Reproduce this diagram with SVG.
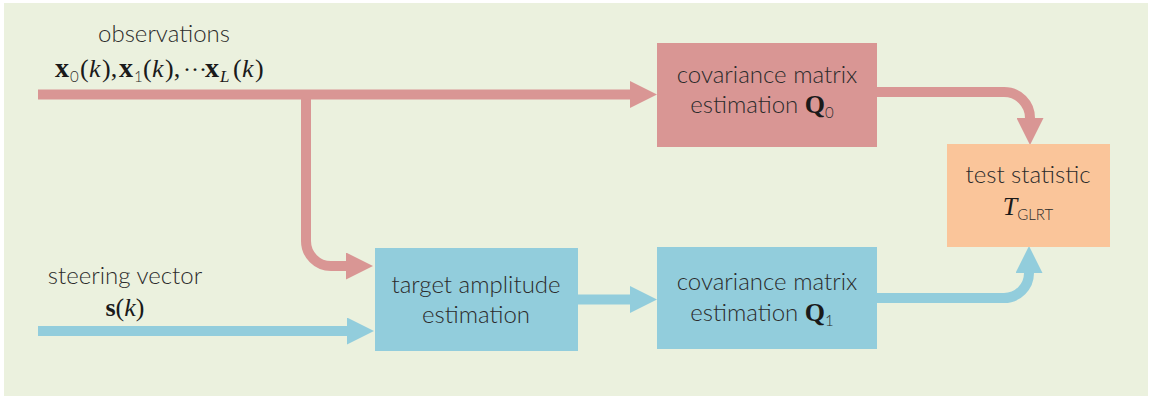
<svg xmlns="http://www.w3.org/2000/svg" width="1152" height="401" viewBox="0 0 1152 401">
<style>
.lbl{font-family:Lato,"Open Sans","Liberation Sans",sans-serif;font-weight:300;font-size:24px;fill:#2b2b2b;text-anchor:middle}
.m{font-family:"Liberation Serif","DejaVu Serif",serif;font-size:26px;fill:#1a1a1a}
.b{font-weight:bold}
.i{font-style:italic}
.sub{font-family:Lato,"Open Sans","Liberation Sans",sans-serif;font-weight:300;font-size:15px;fill:#2b2b2b}
.red{fill:none;stroke:#D99694;stroke-width:10}
.blue{fill:none;stroke:#92CDDC;stroke-width:10}
</style>
<defs>
<marker id="ar" viewBox="0 0 27 27" refX="0" refY="13.5" markerWidth="27" markerHeight="27" markerUnits="userSpaceOnUse" orient="auto"><path d="M0,0 L27,13.5 L0,27 z" fill="#D99694"/></marker>
<marker id="ab" viewBox="0 0 27 27" refX="0" refY="13.5" markerWidth="27" markerHeight="27" markerUnits="userSpaceOnUse" orient="auto"><path d="M0,0 L27,13.5 L0,27 z" fill="#92CDDC"/></marker>
</defs>
<rect x="4" y="3" width="1144" height="393" fill="#EBF1DE"/>
<g id="connectors">
<path class="red" d="M38,94.5 H630" marker-end="url(#ar)"/>
<path class="red" d="M306,94 V241 A25,25 0 0 0 331,266 H346" marker-end="url(#ar)"/>
<path class="red" d="M877,92 H1004 A26,26 0 0 1 1030,118" marker-end="url(#ar)"/>
<path class="blue" d="M38,331 H347" marker-end="url(#ab)"/>
<path class="blue" d="M578,299.5 H630" marker-end="url(#ab)"/>
<path class="blue" d="M877,298 H1004 A25,25 0 0 0 1029,273" marker-end="url(#ab)"/>
</g>
<g id="observations">
<text class="lbl" x="164" y="42">observations</text>
<text class="m" y="77"><tspan class="b" x="55" font-size="28">x</tspan><tspan class="sub" x="70" y="82">0</tspan><tspan x="80" y="77">(</tspan><tspan class="i" x="89">k</tspan><tspan x="102">),</tspan><tspan class="b" x="119" font-size="28">x</tspan><tspan class="sub" x="134" y="82">1</tspan><tspan x="143" y="77">(</tspan><tspan class="i" x="152">k</tspan><tspan x="165">),</tspan><tspan x="183" font-size="24">···</tspan><tspan class="b" x="205" font-size="28">x</tspan><tspan class="i" font-size="17" x="220" y="82">L</tspan><tspan x="233" y="77">(</tspan><tspan class="i" x="242">k</tspan><tspan x="255">)</tspan></text>
</g>
<g id="steering">
<text class="lbl" x="125" y="284">steering vector</text>
<text class="m" x="125" y="316" text-anchor="middle" font-size="27"><tspan class="b">s</tspan>(<tspan class="i">k</tspan>)</text>
</g>
<g id="cov0">
<rect x="657" y="43" width="220" height="104" fill="#D99694"/>
<text class="lbl" x="767" y="83">covariance matrix</text>
<text class="lbl" x="762" y="113">estimation <tspan class="m b">Q</tspan><tspan class="sub" dy="5">0</tspan></text>
</g>
<g id="target">
<rect x="375" y="248" width="203" height="103" fill="#92CDDC"/>
<text class="lbl" x="476" y="293">target amplitude</text>
<text class="lbl" x="476" y="323">estimation</text>
</g>
<g id="cov1">
<rect x="657" y="247" width="220" height="102" fill="#92CDDC"/>
<text class="lbl" x="767" y="290">covariance matrix</text>
<text class="lbl" x="762" y="321">estimation <tspan class="m b">Q</tspan><tspan class="sub" dy="5">1</tspan></text>
</g>
<g id="test">
<rect x="947" y="144" width="163" height="103" fill="#FAC59A"/>
<text class="lbl" x="1028" y="183">test statistic</text>
<text class="m i" x="1028" y="215" text-anchor="middle" font-size="28">T<tspan class="sub" font-style="normal" dy="5" font-size="16">GLRT</tspan></text>
</g>
</svg>
